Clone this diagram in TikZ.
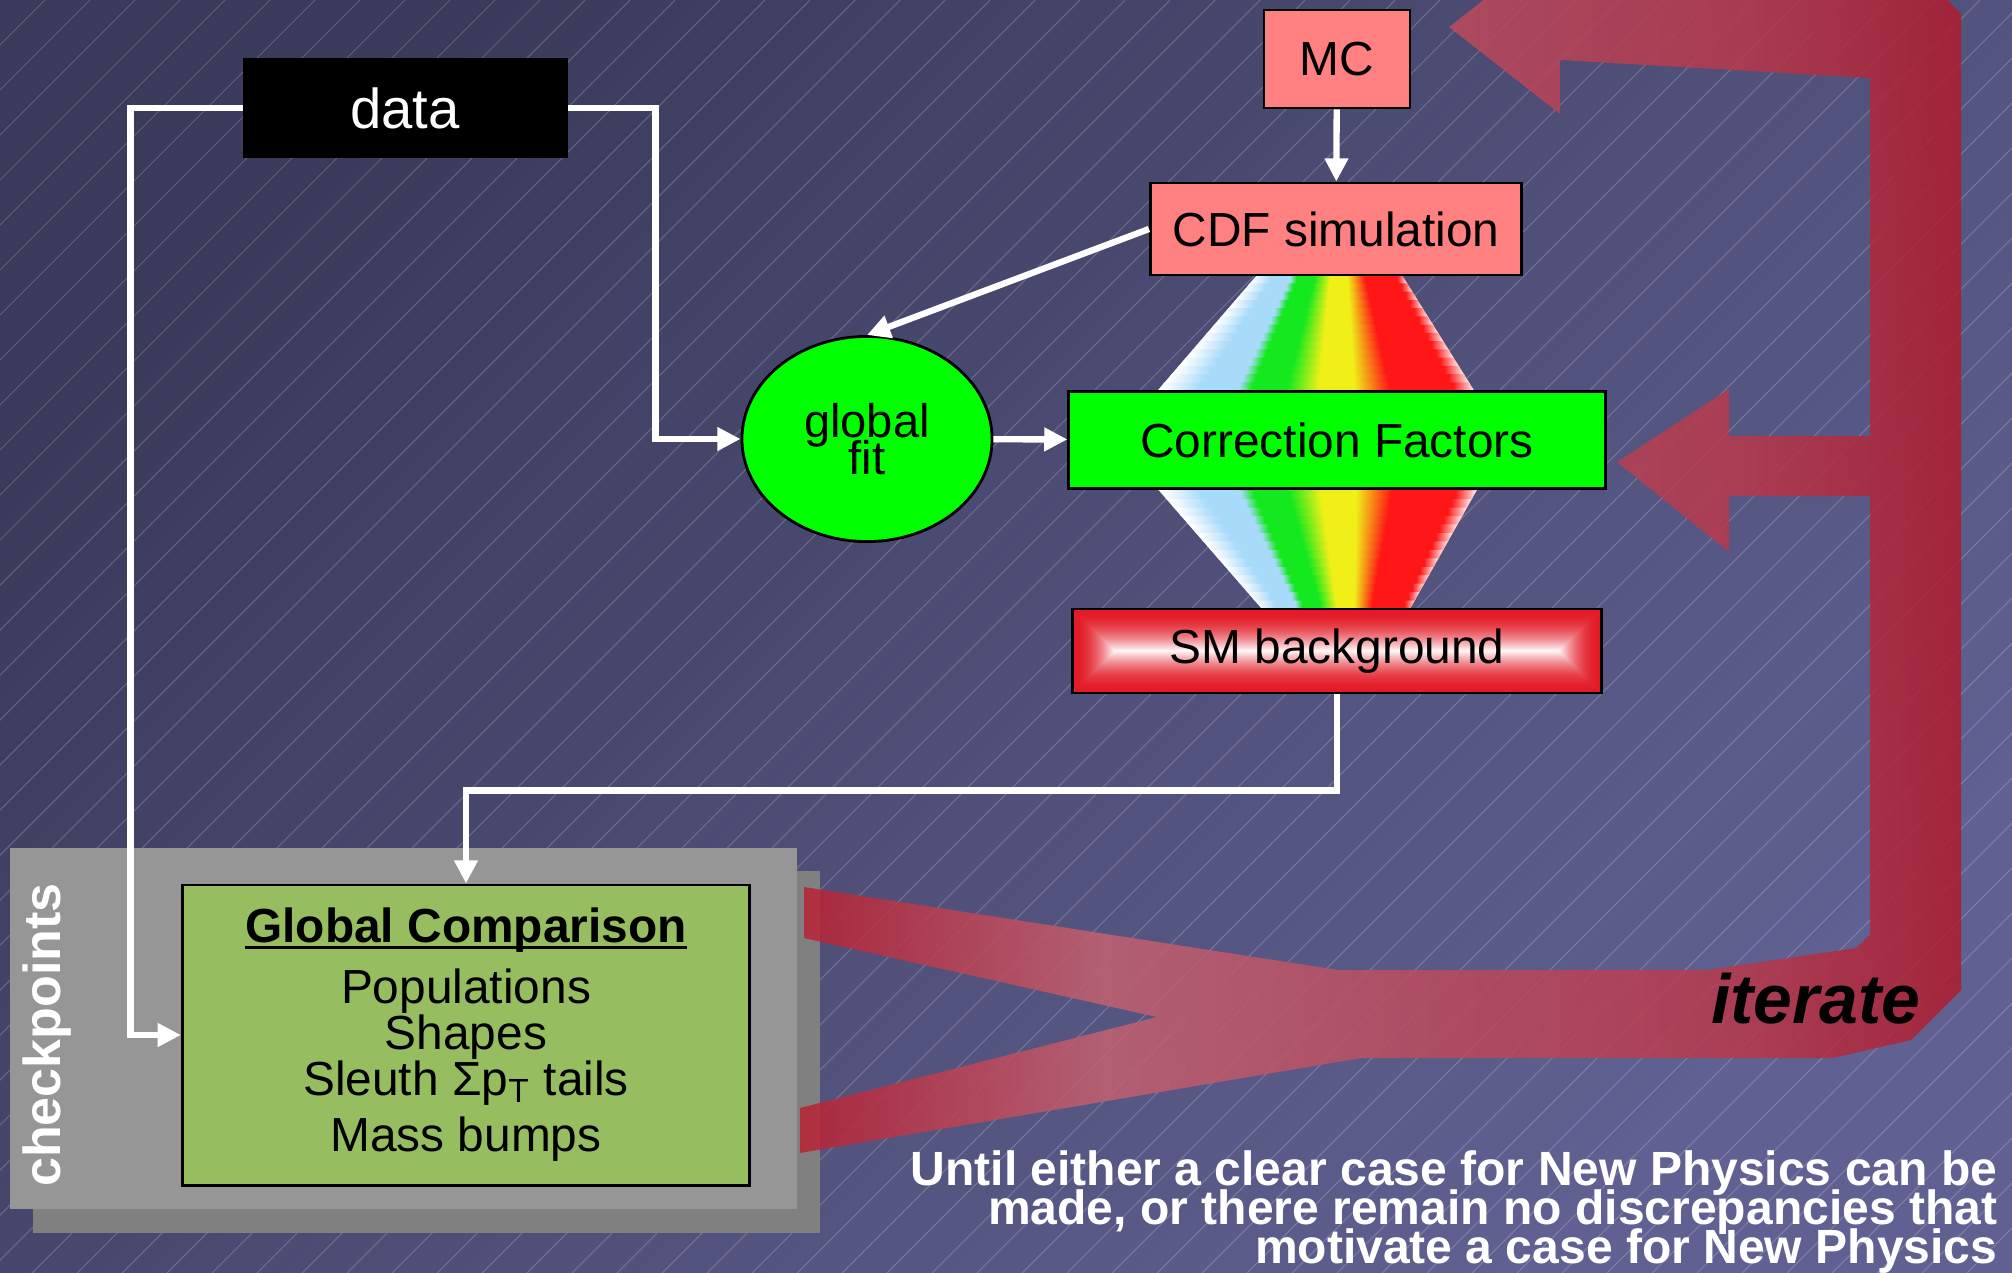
\documentclass[tikz,border=0pt]{standalone}
\usepackage{fontspec}
\setmainfont{Liberation Sans}
\usepackage{tikz}
\usetikzlibrary{positioning, arrows.meta, shapes.geometric, calc}
\definecolor{bgtop}{RGB}{58,58,90}
\definecolor{bgbot}{RGB}{96,96,146}
\definecolor{salmon}{RGB}{255,128,128}
\definecolor{lime}{RGB}{0,255,0}
\definecolor{olive}{RGB}{150,190,96}
\definecolor{smred}{RGB}{226,26,38}
\definecolor{panelgray}{RGB}{150,150,150}
\definecolor{shadowgray}{RGB}{128,128,128}
\definecolor{pskyblue}{RGB}{168,218,250}
\definecolor{pgreen}{RGB}{20,232,30}
\definecolor{pyellow}{RGB}{240,240,24}
\definecolor{pred}{RGB}{255,22,22}
\definecolor{loopA}{RGB}{184,33,51}
\definecolor{loopB}{RGB}{195,97,113}
\definecolor{loopC}{RGB}{188,74,93}
\definecolor{loopD}{RGB}{183,56,74}
\definecolor{loopE}{RGB}{174,27,46}
\pgfdeclarehorizontalshading{prism}{100bp}{color(0bp)=(white); color(26bp)=(white);
  color(32bp)=(pskyblue); color(38bp)=(pskyblue); color(40bp)=(pgreen); color(45.5bp)=(pgreen);
  color(50.5bp)=(pyellow); color(56bp)=(pyellow); color(61.5bp)=(pred); color(71.5bp)=(pred);
  color(75bp)=(white); color(100bp)=(white)}
\pgfdeclarehorizontalshading{loopshade}{100bp}{color(0bp)=(loopA); color(25bp)=(loopA);
  color(38bp)=(loopB); color(53bp)=(loopC); color(66bp)=(loopD); color(75bp)=(loopE);
  color(100bp)=(loopE)}
\newcommand\tightlines{\lineskiplimit=-\maxdimen}
\newcommand\titleline[1]{\setbox0\hbox{#1}\rlap{\rule[-1.6pt]{\wd0}{0.8pt}}\box0}
\tikzset{
  box/.style      ={rectangle, draw=black, line width=0.8pt, inner sep=2pt,
                    font=\fontsize{13.6}{15}\selectfont, align=center},
  databox/.style  ={box, fill=black, text=white, font=\fontsize{16}{18}\selectfont},
  simbox/.style   ={box, fill=salmon},
  corrbox/.style  ={box, fill=lime},
  smbox/.style    ={box, path picture={
      \foreach \k [evaluate=\k as \w using {100-100*(\k/42)^2}] in {0,...,41}
        \fill[smred!\w!white] ($(path picture bounding box.south west)+(\k,-\k)$)
          rectangle ($(path picture bounding box.north east)+(-\k,\k)$);}},
  fitnode/.style  ={ellipse, draw=black, line width=0.8pt, fill=lime, inner sep=0pt,
                    align=center, font=\fontsize{13.4}{10.6}\selectfont\tightlines},
  compbox/.style  ={box, fill=olive, font=\fontsize{13.6}{13.1}\selectfont\tightlines},
  wire/.style     ={-{Triangle[length=6.6pt, width=6.4pt]}, white, line width=1.8pt},
  hatch/.style    ={white, opacity=0.2, line width=0.3pt},
  sidelabel/.style={font=\fontsize{14.8}{16}\selectfont\bfseries, text=white, rotate=90},
  looplabel/.style={font=\fontsize{19.8}{22}\selectfont\bfseries\itshape, text=black, inner sep=0pt},
  notelabel/.style={font=\fontsize{13.66}{11.1}\selectfont\bfseries\tightlines, text=white,
                    align=right, inner sep=0pt},
}
\begin{document}
\begin{tikzpicture}[x=0.01cm, y=-0.01cm]
\useasboundingbox (0,0) rectangle (2012,1273);
\shade[top color=bgtop, bottom color=bgbot, shading angle=45] (0,0) rectangle (2012,1273);
\begin{scope}
  \clip (0,0) rectangle (2012,1273);
  \foreach \k in {0,45,...,3300}
    \draw[hatch] (\k,0) -- ++(-1273,1273);
\end{scope}

\coordinate (hxTL) at (1257,275);
\coordinate (hxTR) at (1402,275);
\coordinate (hxL)  at (1115,440);
\coordinate (hxR)  at (1505,440);
\coordinate (hxBL) at (1262,609);
\coordinate (hxBR) at (1410,609);
\foreach \t [evaluate=\t as \u using \t+0.06] in {0,0.05,...,0.95} {
  \shade[shading=prism] ($(hxTL)!\t!(hxL)$) -- ($(hxTR)!\t!(hxR)$)
    -- ($(hxTR)!\u!(hxR)$) -- ($(hxTL)!\u!(hxL)$) -- cycle;
  \shade[shading=prism] ($(hxBL)!\t!(hxL)$) -- ($(hxBR)!\t!(hxR)$)
    -- ($(hxBR)!\u!(hxR)$) -- ($(hxBL)!\u!(hxL)$) -- cycle;
}

\fill[shadowgray] (33,871) rectangle (820,1233);
\fill[panelgray] (10,848) rectangle (797,1209);

\shade[shading=loopshade, fill opacity=0.85]
  (804,887) -- (1338,970) -- (1707,970) -- (1856,948) -- (1870,935) -- (1870,496)
  -- (1729,496) -- (1729,552) -- (1617,462) -- (1729,389) -- (1729,436) -- (1870,436)
  -- (1870,78) -- (1560,60) -- (1560,114) -- (1449,27) -- (1560,-60) -- (1560,-20)
  -- (1928,-20) -- (1961,14) -- (1961,990) -- (1911,1040) -- (1833,1058) -- (1361,1058)
  -- (800,1153) -- (800,1108) -- (1157,1017) -- (804,938) -- cycle;

\node[databox, minimum width=3.22cm, minimum height=0.97cm] (data) at (405,108) {data};
\node[simbox, minimum width=1.46cm, minimum height=0.98cm] (mc) at (1337,59) {MC};
\node[simbox, minimum width=3.71cm, minimum height=0.92cm] (cdf) at (1336,229) {CDF simulation};
\node[fitnode, minimum width=2.50cm, minimum height=2.05cm] (fit) at (867,439) {global\\fit};
\node[corrbox, minimum width=5.36cm, minimum height=0.97cm] (cf) at (1337,440) {Correction Factors};
\node[smbox, minimum width=5.28cm, minimum height=0.84cm] (sm) at (1337,651) {SM background};
\node[compbox, minimum width=5.67cm, minimum height=3.00cm] (gc) at (466,1035)
  {\titleline{\textbf{Global Comparison}}\\[4pt]Populations\\Shapes\\Sleuth Σp\textsubscript{T} tails\\[3pt]Mass bumps};

\draw[wire] (data.west) -- ++(-112,0) |- (gc.west);
\draw[wire] (data.east) -- ++(88,0) |- (fit.west);
\draw[wire] (mc) -- (cdf);
\draw[wire] (cdf.west) -- (fit.north);
\draw[wire] (fit) -- (cf);
\draw[wire] (sm.south) -- ++(0,96) -| (gc.north);

\node[sidelabel] (chk) at (47,1035) {checkpoints};
\node[looplabel, anchor=base east] (iter) at (1921,1023) {iterate};
\node[notelabel, anchor=north east] (note) at (1998,1150)
  {Until either a clear case for New Physics can be\\made, or there remain no discrepancies that\\motivate a case for New Physics};
\end{tikzpicture}
\end{document}
